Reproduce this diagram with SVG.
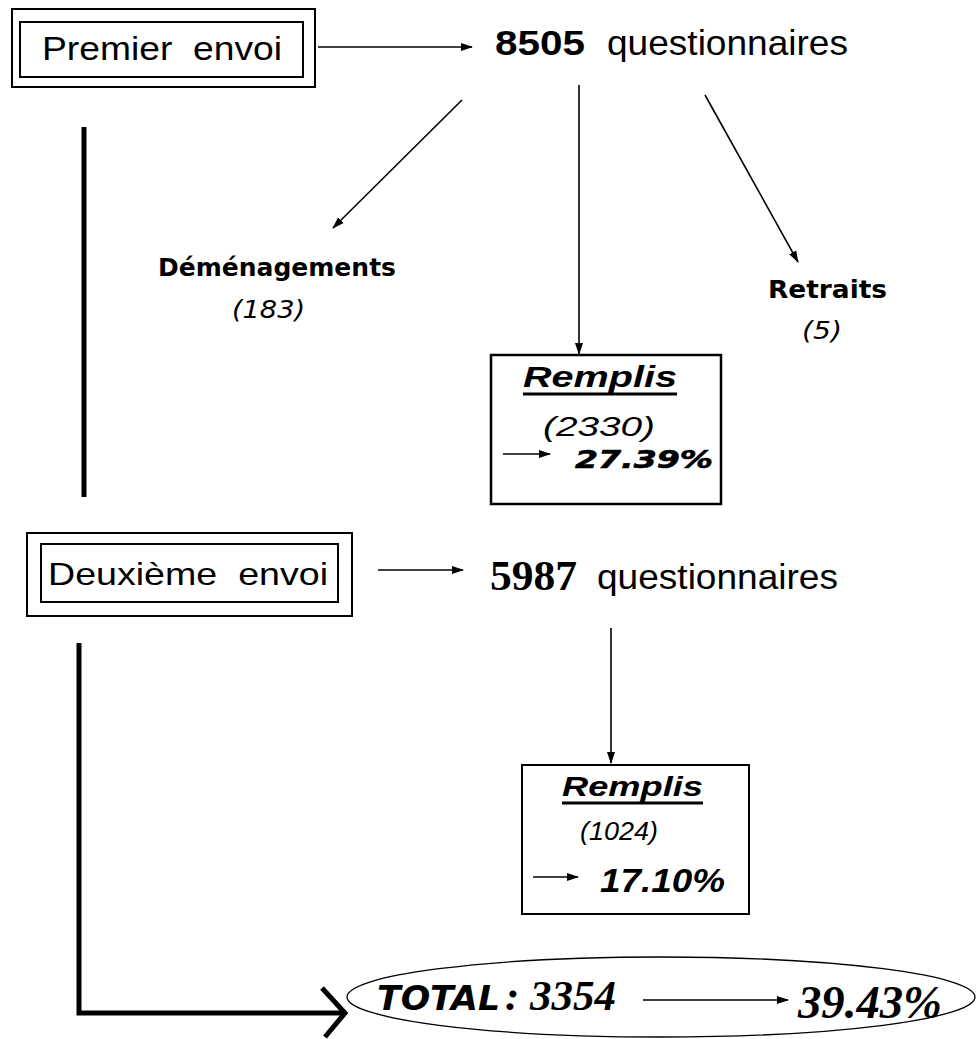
<svg xmlns="http://www.w3.org/2000/svg" width="976" height="1039" viewBox="0 0 976 1039">
<style>
.box{fill:none;stroke:#000;stroke-width:2}
.ln{fill:none;stroke:#000;stroke-width:1.6}
.thick{fill:none;stroke:#000;stroke-width:5}
.sans{font-family:"Liberation Sans",Arial,sans-serif;fill:#000}
.tah{font-family:"DejaVu Sans",Verdana,sans-serif;fill:#000}
.serif{font-family:"Liberation Serif","Times New Roman",serif;fill:#000}
text{white-space:pre}
</style>
<defs>
<marker id="ah" markerWidth="12" markerHeight="10" refX="11" refY="5" orient="auto" markerUnits="userSpaceOnUse">
<path d="M0,1 L12,5 L0,9 Z" fill="#000"/>
</marker>
</defs>
<rect width="976" height="1039" fill="#fff"/>
<g id="premier">
<rect class="box" x="12" y="9" width="303" height="78"/>
<rect class="box" x="20" y="22" width="283" height="55"/>
<text class="sans" x="42" y="60" font-size="34" xml:space="preserve" textLength="240" lengthAdjust="spacingAndGlyphs">Premier  envoi</text>
</g>
<g id="q8505">
<text class="sans" x="495" y="55" font-size="35" font-weight="bold" textLength="90" lengthAdjust="spacingAndGlyphs">8505</text>
<text class="sans" x="607" y="55" font-size="35" textLength="241" lengthAdjust="spacingAndGlyphs">questionnaires</text>
</g>
<g id="demenagements">
<text class="tah" x="158" y="276" font-size="25" font-weight="bold" textLength="238" lengthAdjust="spacingAndGlyphs">Déménagements</text>
<text class="tah" x="232" y="318" font-size="24" font-style="italic" textLength="73" lengthAdjust="spacingAndGlyphs">(183)</text>
</g>
<g id="retraits">
<text class="tah" x="768" y="298" font-size="25" font-weight="bold" textLength="119" lengthAdjust="spacingAndGlyphs">Retraits</text>
<text class="tah" x="802" y="339" font-size="24" font-style="italic" textLength="40" lengthAdjust="spacingAndGlyphs">(5)</text>
</g>
<g id="remplis1">
<rect x="491" y="355" width="230" height="149" fill="none" stroke="#000" stroke-width="2.5"/>
<text class="sans" x="523" y="387" font-size="29" font-weight="bold" font-style="italic" textLength="154" lengthAdjust="spacingAndGlyphs">Remplis</text>
<line x1="523" y1="394" x2="677" y2="394" stroke="#000" stroke-width="3"/>
<text class="sans" x="543" y="436" font-size="28" font-style="italic" textLength="112" lengthAdjust="spacingAndGlyphs">(2330)</text>
<line class="ln" x1="503" y1="454" x2="550" y2="454" marker-end="url(#ah)"/>
<text class="tah" x="575" y="468" font-size="25" font-weight="bold" font-style="italic" stroke="#000" stroke-width="0.6" textLength="138" lengthAdjust="spacingAndGlyphs">27.39%</text>
</g>
<g id="deuxieme">
<rect class="box" x="27" y="533" width="325" height="83"/>
<rect class="box" x="41" y="544" width="297" height="58"/>
<text class="sans" x="48" y="585" font-size="32" xml:space="preserve" textLength="280" lengthAdjust="spacingAndGlyphs">Deuxième  envoi</text>
</g>
<g id="q5987">
<text class="serif" x="490" y="590" font-size="42" font-weight="bold" textLength="87" lengthAdjust="spacingAndGlyphs">5987</text>
<text class="sans" x="597" y="589" font-size="35" textLength="241" lengthAdjust="spacingAndGlyphs">questionnaires</text>
</g>
<g id="remplis2">
<rect x="522" y="765" width="227" height="149" fill="none" stroke="#000" stroke-width="2"/>
<text class="sans" x="562" y="796" font-size="28" font-weight="bold" font-style="italic" textLength="141" lengthAdjust="spacingAndGlyphs">Remplis</text>
<line x1="562" y1="803" x2="703" y2="803" stroke="#000" stroke-width="3"/>
<text class="sans" x="580" y="840" font-size="26" font-style="italic" textLength="78" lengthAdjust="spacingAndGlyphs">(1024)</text>
<line class="ln" x1="533" y1="877" x2="578" y2="877" marker-end="url(#ah)"/>
<text class="sans" x="600" y="892" font-size="34" font-weight="bold" font-style="italic" textLength="125" lengthAdjust="spacingAndGlyphs">17.10%</text>
</g>
<g id="total">
<ellipse cx="661" cy="997" rx="314" ry="40" fill="none" stroke="#000" stroke-width="1.3"/>
<text x="377" y="1010"><tspan class="tah" font-size="33" font-weight="bold" font-style="italic" textLength="123" lengthAdjust="spacingAndGlyphs">TOTAL</tspan><tspan class="serif" x="505" font-size="43" font-weight="bold" font-style="italic">: 3354</tspan></text>
<line class="ln" x1="643" y1="1000" x2="788" y2="1000" marker-end="url(#ah)"/>
<text class="serif" x="798" y="1018" font-size="46" font-weight="bold" font-style="italic" textLength="144" lengthAdjust="spacingAndGlyphs">39.43%</text>
</g>
<g id="connectors">
<line class="ln" x1="318" y1="47" x2="472" y2="47" marker-end="url(#ah)"/>
<line class="ln" x1="462" y1="100" x2="333" y2="228" marker-end="url(#ah)"/>
<line class="ln" x1="579" y1="85" x2="579" y2="354" marker-end="url(#ah)"/>
<line class="ln" x1="705" y1="95" x2="798" y2="262" marker-end="url(#ah)"/>
<line class="ln" x1="378" y1="570" x2="463" y2="570" marker-end="url(#ah)"/>
<line class="ln" x1="611" y1="628" x2="611" y2="763" marker-end="url(#ah)"/>
<line class="thick" x1="84" y1="127" x2="84" y2="497"/>
<polyline class="thick" points="79,643 79,1013 345,1013"/>
<polyline class="thick" points="322,988 345,1013 325,1037"/>
</g>
</svg>
